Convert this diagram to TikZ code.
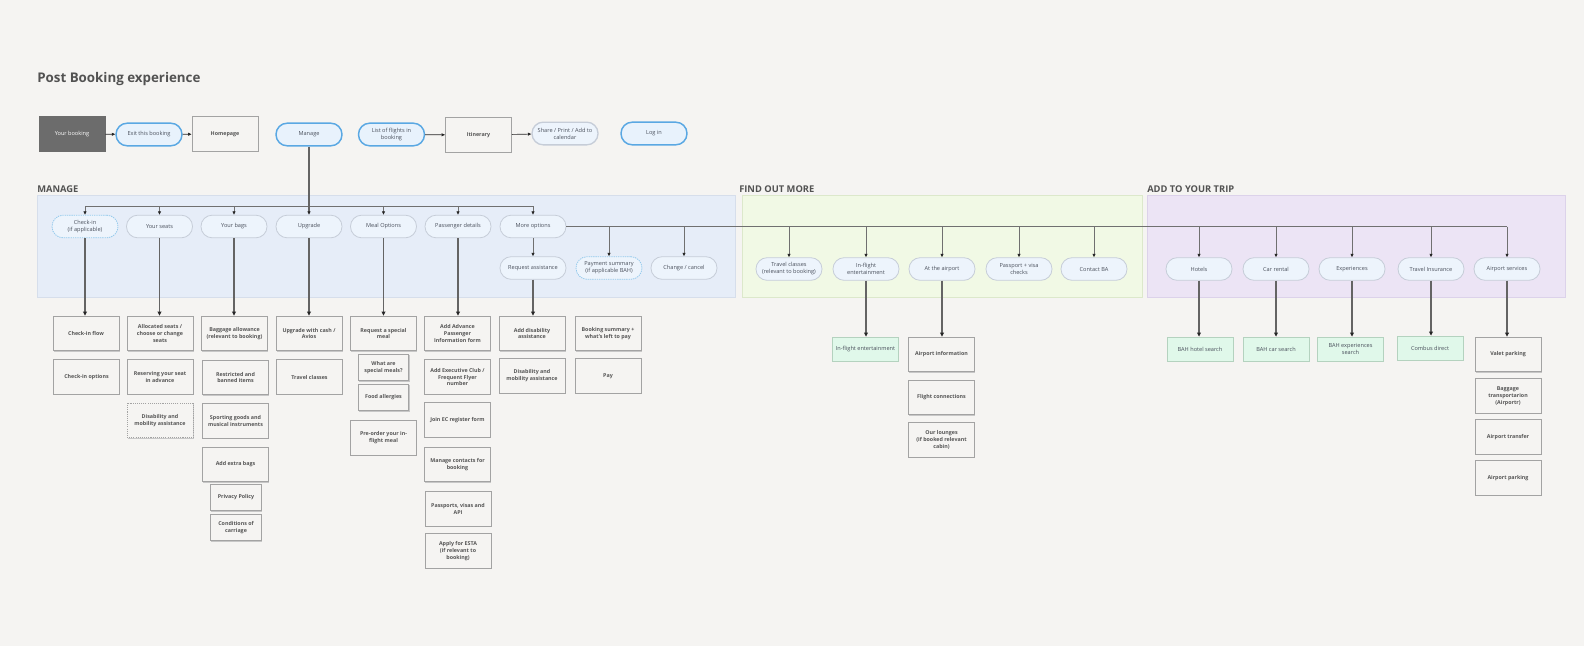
\documentclass[tikz,border=0pt]{standalone}
\usepackage{fontspec}
\setmainfont{Open Sans}
\usetikzlibrary{arrows.meta,shadows}

\definecolor{bgcol}{HTML}{F5F4F2}
\definecolor{titlegray}{HTML}{525252}
\definecolor{managefill}{HTML}{E6EDF8}
\definecolor{manageline}{HTML}{D6DEEB}
\definecolor{findfill}{HTML}{F1F9E5}
\definecolor{findline}{HTML}{DCE8CB}
\definecolor{tripfill}{HTML}{ECE4F5}
\definecolor{tripline}{HTML}{DCD2EA}
\definecolor{pillfill}{HTML}{EDF4FC}
\definecolor{pillline}{HTML}{C6CDD8}
\definecolor{pilltext}{HTML}{4A505C}
\definecolor{navfill}{HTML}{E8F2FC}
\definecolor{navline}{HTML}{5AA8E3}
\definecolor{hintline}{HTML}{93C9EC}
\definecolor{boxline}{HTML}{A3A3A3}
\definecolor{boxtext}{HTML}{555555}
\definecolor{greenfill}{HTML}{E0F8EA}
\definecolor{greenline}{HTML}{B4D2BF}
\definecolor{darkfill}{HTML}{6C6C6C}
\definecolor{linegray}{HTML}{707070}
\definecolor{dropgray}{HTML}{646464}

\tikzset{
  pill/.style={draw=pillline, fill=pillfill, line width=0.6pt, rounded corners=8.4pt,
    minimum width=49.5pt, minimum height=17pt, inner sep=1pt, align=center,
    text=pilltext, font=\fontsize{4.2}{5.3}\selectfont},
  navpill/.style={pill, draw=navline, fill=navfill, line width=1.1pt},
  hintpill/.style={pill, draw=hintline, dash pattern=on 1pt off 0.7pt},
  pagebox/.style={draw=boxline, fill=bgcol, line width=0.7pt,
    minimum width=49.5pt, minimum height=26pt, inner sep=1pt, align=center,
    text=boxtext, font=\fontsize{4}{5.2}\selectfont\bfseries,
    general shadow={fill=black!22, shadow xshift=0.5pt, shadow yshift=-0.5pt}},
  smallbox/.style={pagebox, minimum width=38pt, minimum height=20pt},
  dotbox/.style={pagebox, dash pattern=on 0.8pt off 0.8pt, general shadow={fill=none}},
  greenbox/.style={draw=greenline, fill=greenfill, line width=0.6pt,
    minimum width=49.5pt, minimum height=18pt, inner sep=1pt, align=center,
    text=pilltext, font=\fontsize{4.2}{5.3}\selectfont},
  sectlabel/.style={anchor=base west, inner sep=0pt, text=titlegray, font=\fontsize{7}{8}\selectfont\bfseries},
  flow/.style={draw=black!85, line width=0.5pt, -{Triangle[length=2.6pt,width=2.2pt]}},
  bus/.style={draw=linegray, line width=0.6pt},
  arr/.style={bus, -{Triangle[length=2.6pt,width=2.2pt,color=black!85]}},
  drop/.style={draw=dropgray, line width=1.1pt, -{Triangle[length=3pt,width=2.8pt,color=black!85]}}
}

\begin{document}
\begin{tikzpicture}[x=0.75pt,y=0.75pt,yscale=-1,xscale=1]
\useasboundingbox (0,0) rectangle (1584,646);
\fill[bgcol] (0,0) rectangle (1584,646);

%Shape: Rectangle [bands]
\draw[draw=manageline, fill=managefill] (37,195) rectangle (735,297);
\draw[draw=findline, fill=findfill] (742,195) rectangle (1142,297);
\draw[draw=tripline, fill=tripfill] (1147,195) rectangle (1565,297);

% Text Node
\node[anchor=base west, inner sep=0pt, text=titlegray, font=\fontsize{10}{12}\selectfont\bfseries] (title) at (37,82) {Post Booking experience};
% Text Node
\node[sectlabel] (lblmanage) at (37,192.5) {MANAGE};
\node[sectlabel] (lblfind) at (739,192.5) {FIND OUT MORE};
\node[sectlabel] (lbltrip) at (1147,192.5) {ADD TO YOUR TRIP};

% top row
\node[pagebox, fill=darkfill, draw=darkfill, text=white, font=\fontsize{4.2}{5.3}\selectfont, general shadow={fill=none}] (yourbooking) at (72,134) {Your booking};
\node[navpill] (exitbooking) at (149,134.5) {Exit this booking};
\node[pagebox] (homepage) at (225,134) {Homepage};
\node[navpill] (manage) at (309,134.5) {Manage};
\node[navpill] (listflights) at (391.5,134.5) {List of flights in\\booking};
\node[pagebox] (itinerary) at (478.5,135) {Itinerary};
\node[pill, line width=1pt] (share) at (565,133.5) {Share / Print / Add to\\calendar};
\node[navpill] (login) at (654,133.5) {Log in};

\draw[flow] (yourbooking) -- (exitbooking);
\draw[flow] (exitbooking) -- (homepage);
\draw[flow] (listflights) -- (itinerary);
\draw[flow] (itinerary) -- (share);

% manage row
\node[hintpill] (checkin) at (85,226.5) {Check-in\\(if applicable)};
\node[pill] (seats) at (159.5,226.5) {Your seats};
\node[pill] (bags) at (234,226.5) {Your bags};
\node[pill] (upgrade) at (309,226.5) {Upgrade};
\node[pill] (meal) at (383.5,226.5) {Meal Options};
\node[pill] (passenger) at (458,226.5) {Passenger details};
\node[pill] (moreopt) at (533,226.5) {More options};

\node[pill] (reqassist) at (533,268) {Request assistance};
\node[hintpill] (payment) at (609,268) {Payment summary\\(if applicable BAH)};
\node[pill] (change) at (684,268) {Change / cancel};

% find out more row
\node[pill] (travelcls) at (789,269) {Travel classes\\(relevant to booking)};
\node[pill] (inflight) at (866,269) {In-flight\\entertainment};
\node[pill] (airport) at (942,269) {At the airport};
\node[pill] (passport) at (1019,269) {Passport + visa\\checks};
\node[pill] (contactba) at (1094,269) {Contact BA};

% add to your trip row
\node[pill] (hotels) at (1199,269) {Hotels};
\node[pill] (carrental) at (1276,269) {Car rental};
\node[pill] (experiences) at (1352,269) {Experiences};
\node[pill] (insurance) at (1431,269) {Travel Insurance};
\node[pill] (airportsvc) at (1507,269) {Airport services};

% connectors
\coordinate (busM) at (85,206);
\draw[bus] (checkin.north |- busM) -- (moreopt.north |- busM);
\foreach \n in {checkin,seats,bags,meal,passenger,moreopt}
  \draw[arr] (\n.north |- busM) -- (\n.north);
\draw[arr, draw=dropgray, line width=0.9pt] (manage.south) -- (upgrade.north);
\draw[arr] (moreopt.south) -- (reqassist.north);
\draw[bus] (moreopt.east) -- (airportsvc.north |- moreopt.east);
\foreach \n in {payment,change,travelcls,inflight,airport,passport,contactba,hotels,carrental,experiences,insurance,airportsvc}
  \draw[arr] (\n.north |- moreopt.east) -- (\n.north);

% check-in
\node[pagebox] (checkinflow) at (86,333.5) {Check-in flow};
\node[pagebox] (checkinopts) at (86.5,377) {Check-in options};
% seats
\node[pagebox] (allocseats) at (160,333.5) {Allocated seats /\\choose or change\\seats};
\node[pagebox] (reserveseat) at (160,377) {Reserving your seat\\in advance};
\node[dotbox] (disabseats) at (160,420.5) {Disability and\\mobility assistance};
% bags
\node[pagebox] (baggage) at (234.5,333.5) {Baggage allowance\\(relevant to booking)};
\node[pagebox] (restricted) at (235.5,377.5) {Restricted and\\banned items};
\node[pagebox] (sporting) at (235.5,421) {Sporting goods and\\musical instruments};
\node[pagebox] (extrabags) at (235.5,464.5) {Add extra bags};
\node[smallbox] (privacy) at (236,497.5) {Privacy Policy};
\node[smallbox] (conditions) at (236,527.5) {Conditions of\\carriage};
% upgrade
\node[pagebox] (upgradecash) at (309,333.5) {Upgrade with cash /\\Avios};
\node[pagebox] (travelclasses) at (309.5,377) {Travel classes};
% meals
\node[pagebox] (specialmeal) at (383.5,333.5) {Request a special\\meal};
\node[smallbox] (whatmeals) at (383.5,367.5) {What are\\special meals?};
\node[smallbox] (allergies) at (383.5,397.5) {Food allergies};
\node[pagebox] (preorder) at (383.5,438) {Pre-order your in-\\flight meal};
% passenger details
\node[pagebox] (apiform) at (457.5,333.5) {Add Advance\\Passenger\\Information form};
\node[pagebox] (execclub) at (457.5,377) {Add Executive Club /\\Frequent Flyer\\number};
\node[pagebox] (joinec) at (457.5,420) {Join EC register form};
\node[pagebox] (contacts) at (457.5,464.5) {Manage contacts for\\booking};
\node[pagebox] (passports) at (458,509) {Passports, visas and\\API};
\node[pagebox] (esta) at (458,551) {Apply for ESTA\\(if relevant to\\booking)};
% assistance + payment
\node[pagebox] (adddisab) at (532,333.5) {Add disability\\assistance};
\node[pagebox] (disabmob) at (532,376) {Disability and\\mobility assistance};
\node[pagebox] (bookingsum) at (608,333.5) {Booking summary +\\what's left to pay};
\node[pagebox] (pay) at (608,376) {Pay};
% find out more
\node[greenbox] (inflightbox) at (865.5,349) {In-flight entertainment};
\node[pagebox] (airportinfo) at (941.5,354.5) {Airport information};
\node[pagebox] (flightconn) at (941.5,397.5) {Flight connections};
\node[pagebox] (lounges) at (941.5,440) {Our lounges\\(if booked relevant\\cabin)};
% add to your trip
\node[greenbox] (hotelsearch) at (1200,349) {BAH hotel search};
\node[greenbox] (carsearch) at (1276,349) {BAH car search};
\node[greenbox] (expsearch) at (1350.5,349) {BAH experiences\\search};
\node[greenbox] (combus) at (1430,348) {Combus direct};
\node[pagebox] (valet) at (1508,354.5) {Valet parking};
\node[pagebox] (bagtransport) at (1508,396) {Baggage\\transportarion\\(Airportr)};
\node[pagebox] (transfer) at (1508,437) {Airport transfer};
\node[pagebox] (parking) at (1508,478) {Airport parking};

% drops
\foreach \a/\b in {checkin/checkinflow,seats/allocseats,bags/baggage,upgrade/upgradecash,meal/specialmeal,passenger/apiform,reqassist/adddisab,inflight/inflightbox,airport/airportinfo,hotels/hotelsearch,carrental/carsearch,experiences/expsearch,insurance/combus,airportsvc/valet}
  \draw[drop] (\a.south) -- (\a.south |- \b.north);

\end{tikzpicture}
\end{document}
